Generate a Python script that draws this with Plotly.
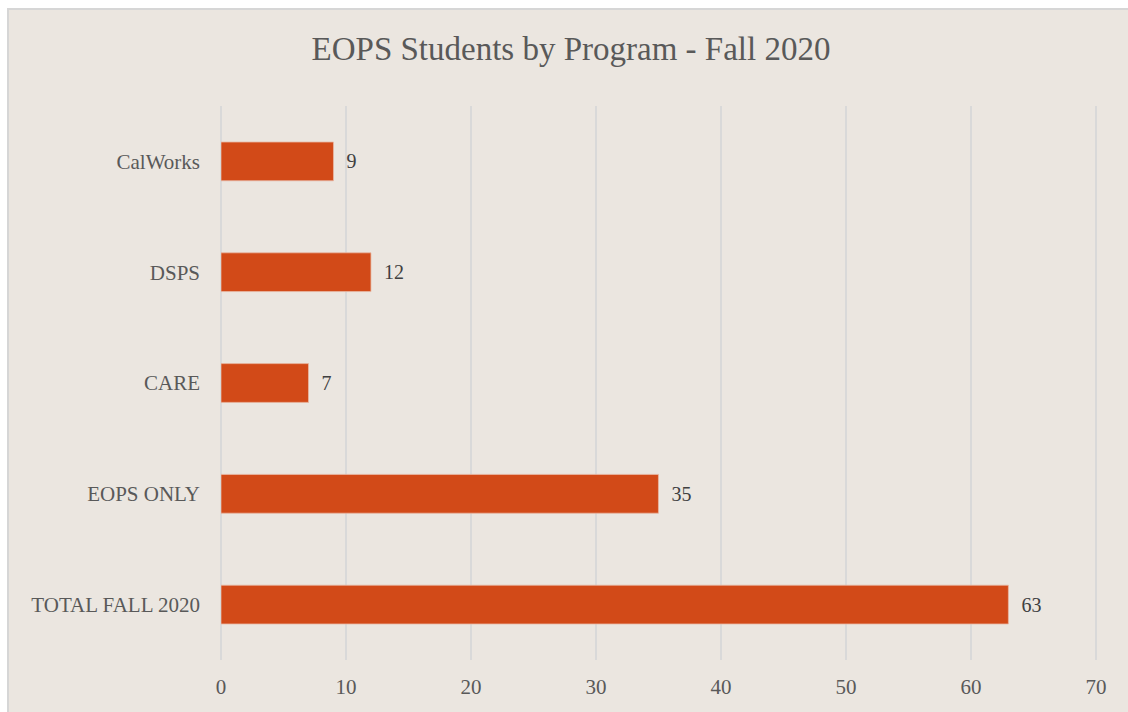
import plotly.graph_objects as go

categories = ["TOTAL FALL 2020", "EOPS ONLY", "CARE", "DSPS", "CalWorks"]
values = [63, 35, 7, 12, 9]
x_ticks = [0, 10, 20, 30, 40, 50, 60, 70]

W, H = 1128, 712
L, R, T, B = 221, 29, 106, 52
pw, ph = W - L - R, H - T - B
XMAX = 70.25

fig = go.Figure(go.Bar(
    y=categories, x=values, orientation="h",
    marker=dict(color="#D24A18", line=dict(color="#E9B9A4", width=0.8)),
    text=[f"  {v}" for v in values], textposition="outside",
    textfont=dict(family="Liberation Serif", size=20, color="#404040"),
    cliponaxis=False, width=0.35,
))

fig.add_shape(type="rect", xref="paper", yref="paper",
              x0=(8 - L) / pw, x1=(W + 20 - L) / pw,
              y0=-(B + 20) / ph, y1=(H - B - 9) / ph,
              fillcolor="#EBE6E0", line=dict(color="#D6D6D6", width=2), layer="below")

fig.update_layout(
    width=W, height=H,
    margin=dict(l=L, r=R, t=T, b=B, pad=0),
    paper_bgcolor="white", plot_bgcolor="rgba(0,0,0,0)",
    title=dict(text="EOPS Students by Program - Fall 2020", x=571 / W, xanchor="center",
               y=1 - 48 / H, yanchor="middle",
               font=dict(family="Liberation Serif", size=33, color="#595959")),
    showlegend=False,
    bargap=0.65,
    font=dict(family="Liberation Serif", size=21, color="#595959"),
)
fig.update_xaxes(range=[0, XMAX], tickvals=x_ticks, showgrid=True, gridcolor="#D9D9D9", gridwidth=1.5,
                 zeroline=True, zerolinecolor="#D9D9D9", zerolinewidth=1.5, showline=False,
                 ticks="", ticklabelstandoff=12,
                 tickfont=dict(family="Liberation Serif", size=21, color="#595959"))
fig.update_yaxes(showgrid=False, showline=False, ticks="", ticklabelstandoff=20,
                 tickfont=dict(family="Liberation Serif", size=21, color="#595959"))

fig.write_html("out.html")
